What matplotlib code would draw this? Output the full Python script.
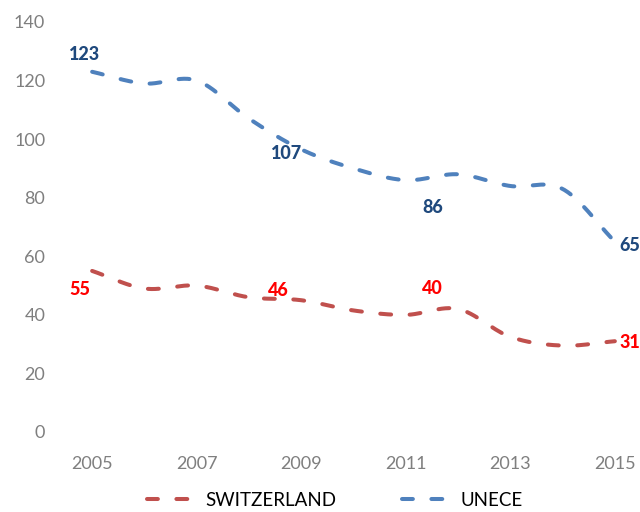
import numpy as np
import matplotlib.pyplot as plt

years = [2005, 2006, 2007, 2008, 2009, 2010, 2011, 2012, 2013, 2014, 2015]
unece = [123, 119, 120, 107, 96.5, 90, 86, 88, 84, 83, 65]
switzerland = [55, 49, 50, 46, 45, 41.5, 40, 42, 32.5, 29.5, 31]

# labelled points (index into years) and the shown text
label_idx = [0, 3, 6, 10]
unece_labels = ['123', '107', '86', '65']
swiss_labels = ['55', '46', '40', '31']
# label offsets in pixels (right, up) from the point
unece_off = [(-8, 17), (38, -35), (27, -27), (15, -4)]
swiss_off = [(-12, -19), (29, 7), (27, 26), (15, -1)]

xticks = [2005, 2007, 2009, 2011, 2013, 2015]
yticks = [0, 20, 40, 60, 80, 100, 120, 140]


def smooth(x, y, n=30):
    # catmull-rom through the points, like excel's smoothed line
    x = np.asarray(x, float)
    y = np.asarray(y, float)
    px = np.concatenate([[2 * x[0] - x[1]], x, [2 * x[-1] - x[-2]]])
    py = np.concatenate([[2 * y[0] - y[1]], y, [2 * y[-1] - y[-2]]])
    t = np.linspace(0, 1, n)[:-1]
    xs, ys = [], []
    for i in range(1, len(px) - 2):
        for p, out in ((px, xs), (py, ys)):
            p0, p1, p2, p3 = p[i - 1], p[i], p[i + 1], p[i + 2]
            out.extend(0.5 * (2 * p1 + (-p0 + p2) * t
                              + (2 * p0 - 5 * p1 + 4 * p2 - p3) * t ** 2
                              + (-p0 + 3 * p1 - 3 * p2 + p3) * t ** 3))
    xs.append(x[-1])
    ys.append(y[-1])
    return np.array(xs), np.array(ys)


plt.rcParams['font.family'] = ['Lato', 'DejaVu Sans']

fig = plt.figure(figsize=(6.4, 5.12), dpi=100)
ax = fig.add_axes([66 / 640, 80 / 512, 575 / 640, 410 / 512])

red = '#C0504D'
blue = '#4F81BD'
dash = (0, (2.7, 4.6))

sx, sy = smooth(years, switzerland)
ax.plot(sx, sy, color=red, lw=2.9, linestyle=dash, dash_capstyle='round',
        label='SWITZERLAND')
ux, uy = smooth(years, unece)
ax.plot(ux, uy, color=blue, lw=2.9, linestyle=dash, dash_capstyle='round',
        label='UNECE')

for i, txt, off in zip(label_idx, unece_labels, unece_off):
    ax.annotate(txt, (years[i], unece[i]), xytext=off, textcoords='offset pixels',
                ha='center', va='center', fontsize=13, fontweight='black',
                color='#1F497D', annotation_clip=False)
for i, txt, off in zip(label_idx, swiss_labels, swiss_off):
    ax.annotate(txt, (years[i], switzerland[i]), xytext=off, textcoords='offset pixels',
                ha='center', va='center', fontsize=13, fontweight='black',
                color='#FF0000', annotation_clip=False)

ax.set_xlim(2004.5, 2015.5)
ax.set_ylim(0, 140)
ax.set_xticks(xticks)
ax.set_yticks(yticks)
ax.tick_params(axis='both', length=0, labelsize=13, labelcolor='#7F7F7F')
ax.tick_params(axis='x', pad=17)
ax.tick_params(axis='y', pad=15)
for s in ax.spines.values():
    s.set_visible(False)

fig.legend(loc='center', bbox_to_anchor=(335 / 640, 12 / 512), ncol=2,
           frameon=False, fontsize=13.5, handlelength=2.6, handletextpad=0.5,
           columnspacing=3.5, labelcolor='#000000')

fig.savefig('out.png', dpi=100)
